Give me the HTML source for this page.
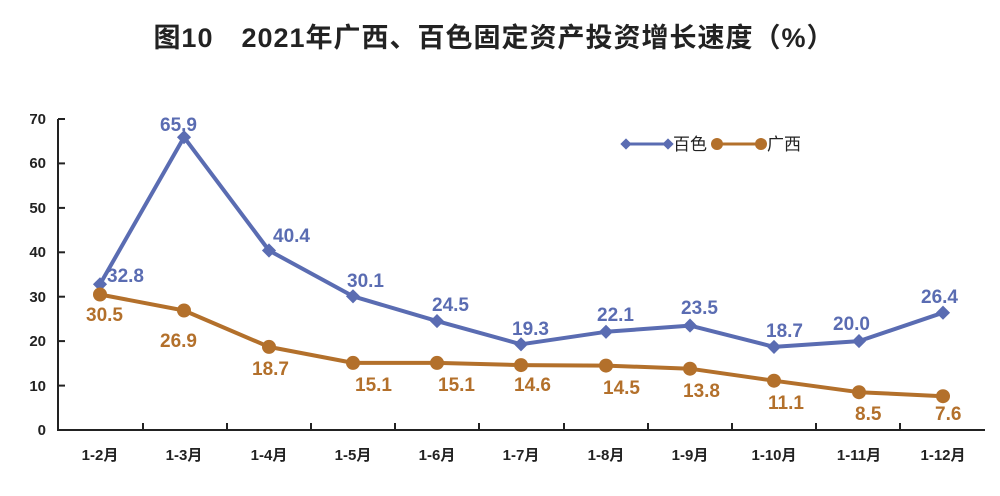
<!DOCTYPE html>
<html><head><meta charset="utf-8"><style>
body{margin:0;background:#fff;}
svg{display:block;font-family:"Liberation Sans","Noto Sans CJK SC",sans-serif;}
</style></head><body>
<svg width="1000" height="496" viewBox="0 0 1000 496">
<text x="494" y="47" text-anchor="middle" font-size="27" font-weight="bold" fill="#222" letter-spacing="1" font-family="'Liberation Sans','Noto Sans CJK SC',sans-serif">图10　2021年广西、百色固定资产投资增长速度（%）</text>
<g stroke="#222" stroke-width="2" fill="none">
<line x1="58" y1="119" x2="58" y2="431"/>
<line x1="57" y1="430" x2="985" y2="430"/>
</g>
<g stroke="#222" stroke-width="2">
<line x1="58" y1="119" x2="65" y2="119"/><line x1="58" y1="163.4" x2="65" y2="163.4"/><line x1="58" y1="207.9" x2="65" y2="207.9"/><line x1="58" y1="252.3" x2="65" y2="252.3"/><line x1="58" y1="296.7" x2="65" y2="296.7"/><line x1="58" y1="341.1" x2="65" y2="341.1"/><line x1="58" y1="385.6" x2="65" y2="385.6"/>
<line x1="143" y1="430" x2="143" y2="423"/><line x1="227" y1="430" x2="227" y2="423"/><line x1="311" y1="430" x2="311" y2="423"/><line x1="395" y1="430" x2="395" y2="423"/><line x1="479" y1="430" x2="479" y2="423"/><line x1="564" y1="430" x2="564" y2="423"/><line x1="648" y1="430" x2="648" y2="423"/><line x1="732" y1="430" x2="732" y2="423"/><line x1="816" y1="430" x2="816" y2="423"/><line x1="900" y1="430" x2="900" y2="423"/>
</g>
<g font-size="15" font-weight="bold" fill="#222" text-anchor="end">
<text x="46" y="124">70</text><text x="46" y="168">60</text><text x="46" y="213">50</text><text x="46" y="257">40</text><text x="46" y="302">30</text><text x="46" y="346">20</text><text x="46" y="391">10</text><text x="46" y="435">0</text>
</g>
<g font-size="15" font-weight="bold" fill="#222" text-anchor="middle">
<text x="100" y="460">1-2月</text><text x="184" y="460">1-3月</text><text x="269" y="460">1-4月</text><text x="353" y="460">1-5月</text><text x="437" y="460">1-6月</text><text x="521" y="460">1-7月</text><text x="606" y="460">1-8月</text><text x="690" y="460">1-9月</text><text x="774" y="460">1-10月</text><text x="859" y="460">1-11月</text><text x="943" y="460">1-12月</text>
</g>
<polyline fill="none" stroke="#5a6cb2" stroke-width="4" stroke-linejoin="round" points="100,284.3 184,137.2 269,250.5 353,296.3 437,321.1 521,344.3 606,331.8 690,325.6 774,346.9 859,341.1 943,312.7"/>
<g fill="#5a6cb2">
<rect x="95" y="279.3" width="10" height="10" transform="rotate(45 100 284.3)"/><rect x="179" y="132.2" width="10" height="10" transform="rotate(45 184 137.2)"/><rect x="264" y="245.5" width="10" height="10" transform="rotate(45 269 250.5)"/><rect x="348" y="291.3" width="10" height="10" transform="rotate(45 353 296.3)"/><rect x="432" y="316.1" width="10" height="10" transform="rotate(45 437 321.1)"/><rect x="516" y="339.3" width="10" height="10" transform="rotate(45 521 344.3)"/><rect x="601" y="326.8" width="10" height="10" transform="rotate(45 606 331.8)"/><rect x="685" y="320.6" width="10" height="10" transform="rotate(45 690 325.6)"/><rect x="769" y="341.9" width="10" height="10" transform="rotate(45 774 346.9)"/><rect x="854" y="336.1" width="10" height="10" transform="rotate(45 859 341.1)"/><rect x="938" y="307.7" width="10" height="10" transform="rotate(45 943 312.7)"/>
</g>
<polyline fill="none" stroke="#b3702b" stroke-width="4" stroke-linejoin="round" points="100,294.5 184,310.5 269,346.9 353,362.9 437,362.9 521,365.1 606,365.6 690,368.7 774,380.7 859,392.2 943,396.2"/>
<g fill="#b3702b">
<circle cx="100" cy="294.5" r="7"/><circle cx="184" cy="310.5" r="7"/><circle cx="269" cy="346.9" r="7"/><circle cx="353" cy="362.9" r="7"/><circle cx="437" cy="362.9" r="7"/><circle cx="521" cy="365.1" r="7"/><circle cx="606" cy="365.6" r="7"/><circle cx="690" cy="368.7" r="7"/><circle cx="774" cy="380.7" r="7"/><circle cx="859" cy="392.2" r="7"/><circle cx="943" cy="396.2" r="7"/>
</g>
<g font-size="19" font-weight="bold" fill="#5a6cb2">
<text x="107" y="282">32.8</text><text x="160" y="131">65.9</text><text x="273" y="242">40.4</text><text x="347" y="287">30.1</text><text x="432" y="311">24.5</text><text x="512" y="335">19.3</text><text x="597" y="321">22.1</text><text x="681" y="314">23.5</text><text x="766" y="337">18.7</text><text x="833" y="330">20.0</text><text x="921" y="303">26.4</text>
</g>
<g font-size="19" font-weight="bold" fill="#b3702b">
<text x="86" y="321">30.5</text><text x="160" y="347">26.9</text><text x="252" y="375">18.7</text><text x="355" y="391">15.1</text><text x="438" y="391">15.1</text><text x="514" y="391">14.6</text><text x="603" y="394">14.5</text><text x="683" y="397">13.8</text><text x="768" y="409">11.1</text><text x="855" y="420">8.5</text><text x="935" y="420">7.6</text>
</g>
<line x1="626" y1="144" x2="668" y2="144" stroke="#5a6cb2" stroke-width="3"/>
<rect x="622" y="140" width="8" height="8" fill="#5a6cb2" transform="rotate(45 626 144)"/>
<rect x="664" y="140" width="8" height="8" fill="#5a6cb2" transform="rotate(45 668 144)"/>
<text x="673" y="150" font-size="17" fill="#222">百色</text>
<line x1="717" y1="144" x2="761" y2="144" stroke="#b3702b" stroke-width="3"/>
<circle cx="717" cy="144" r="6" fill="#b3702b"/><circle cx="761" cy="144" r="6" fill="#b3702b"/>
<text x="767" y="150" font-size="17" fill="#222">广西</text>
</svg>
</body></html>
